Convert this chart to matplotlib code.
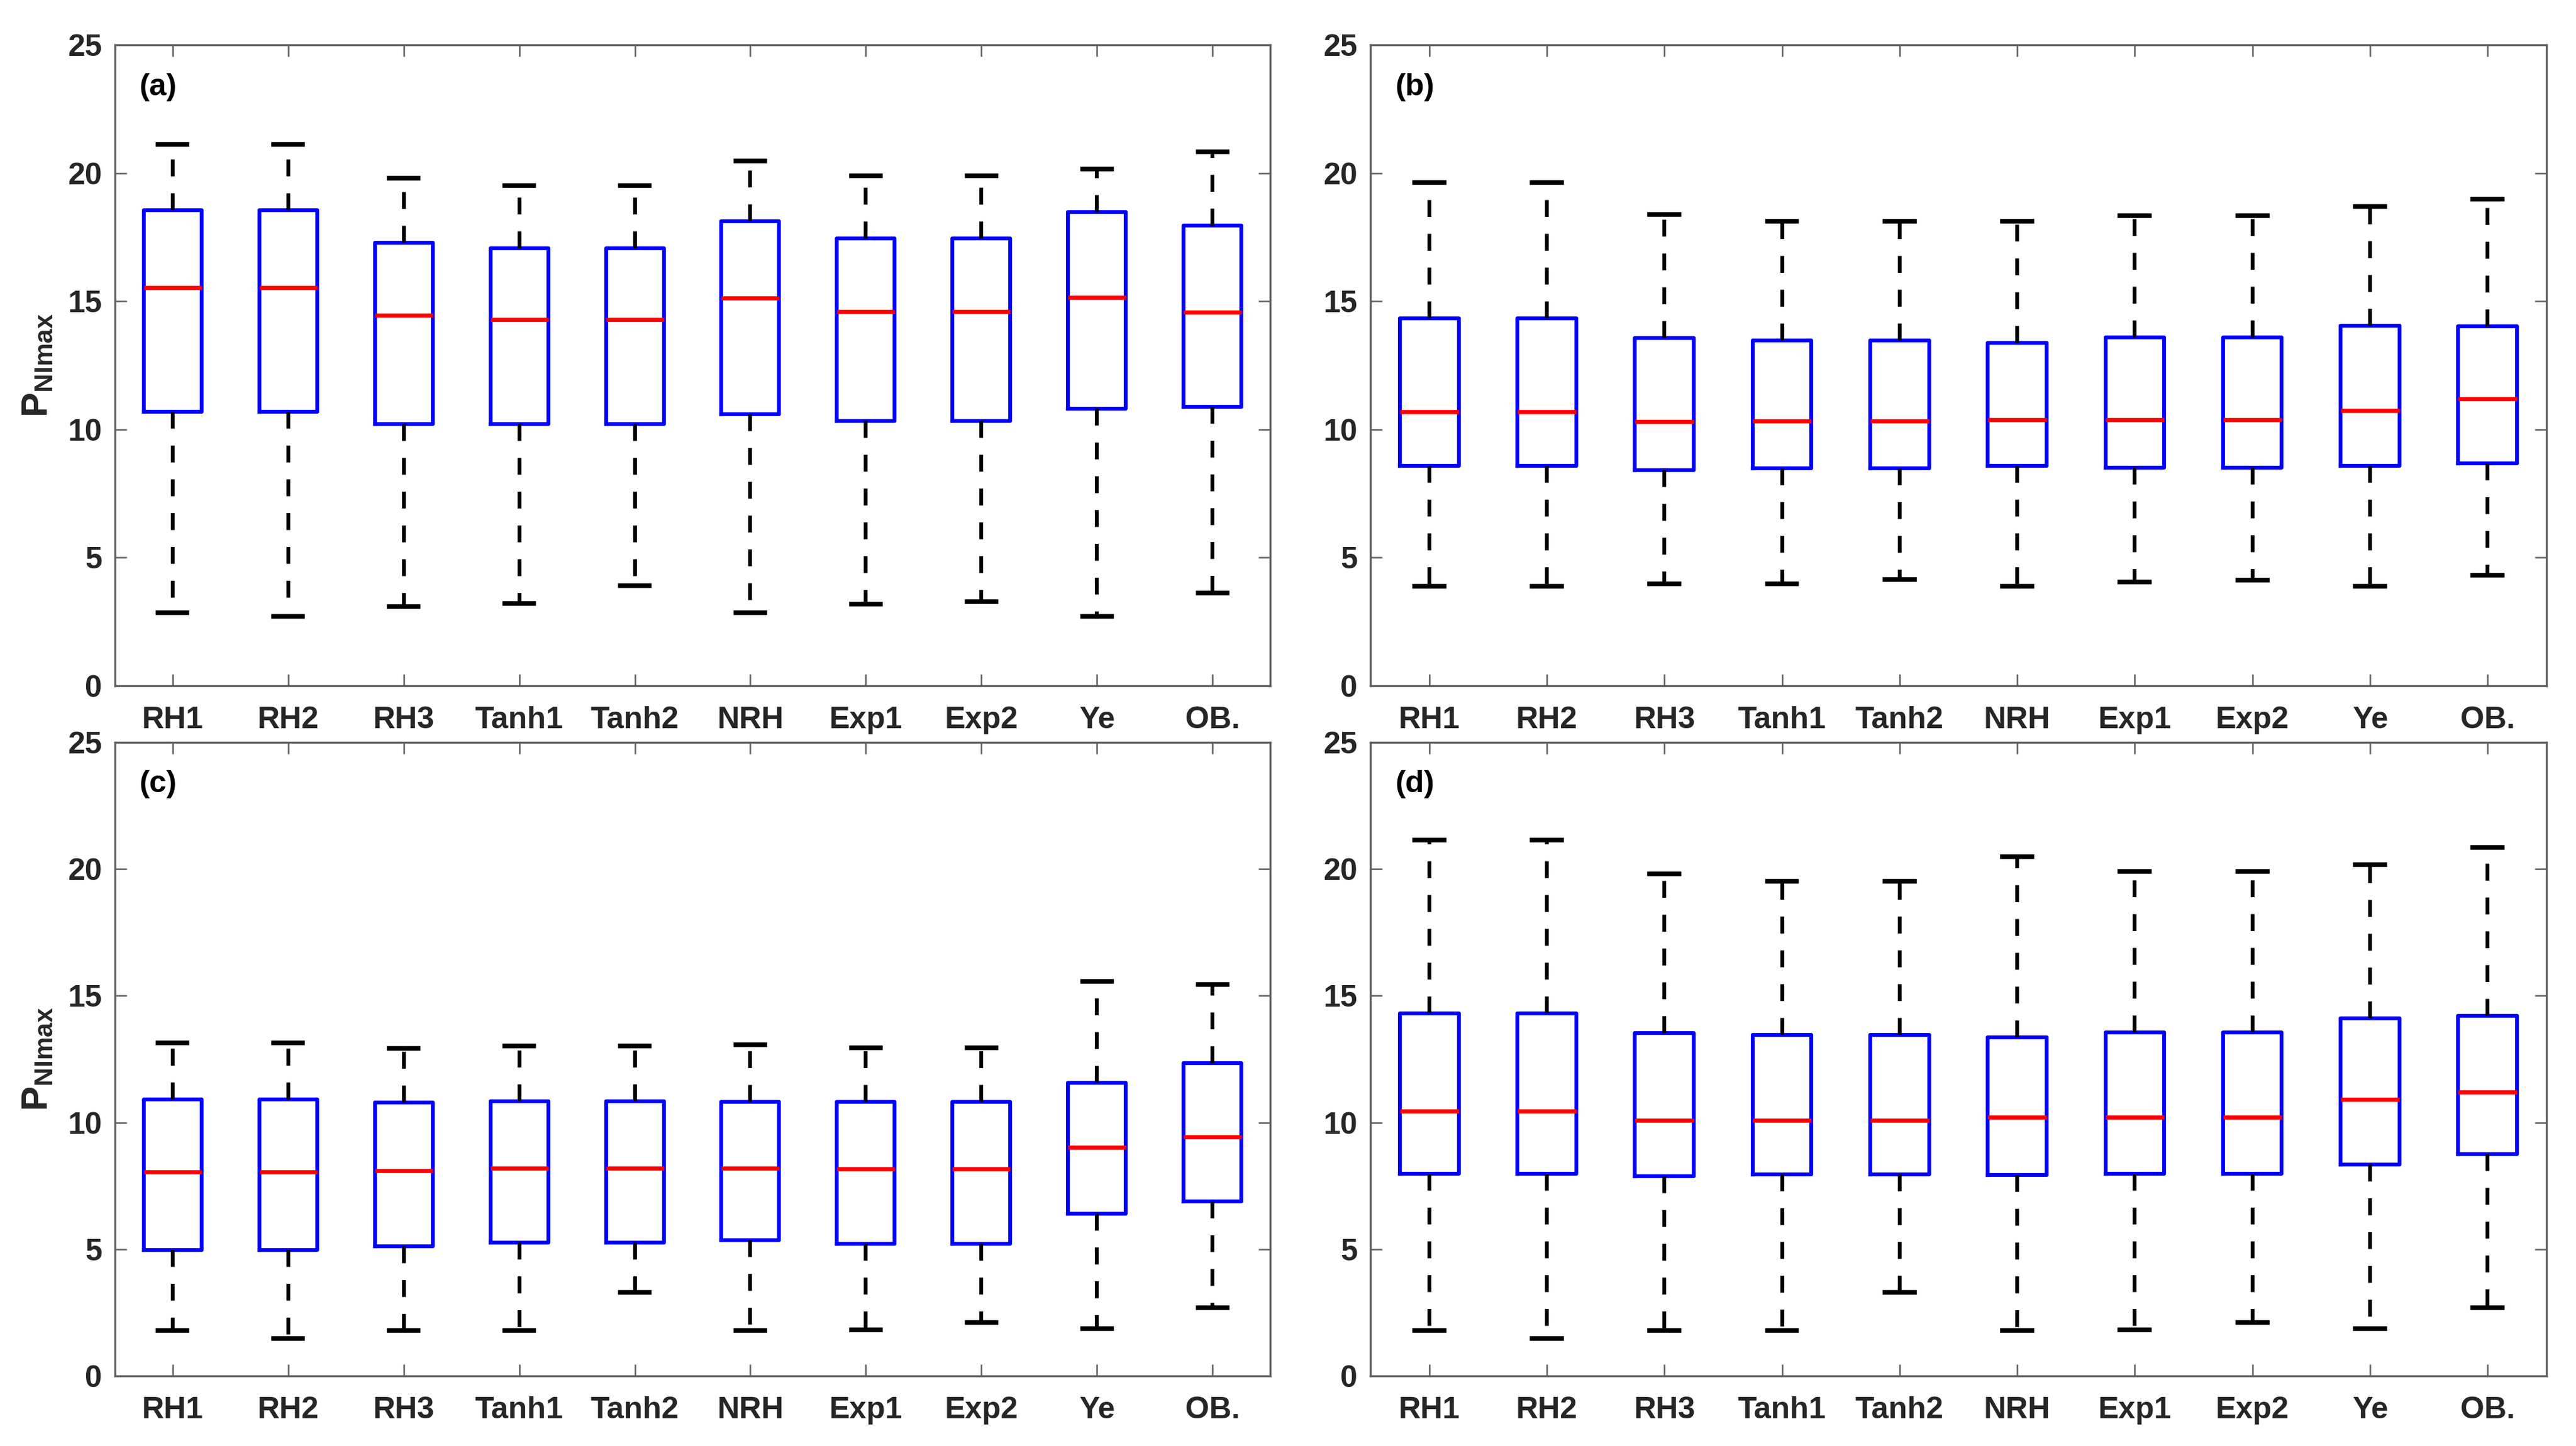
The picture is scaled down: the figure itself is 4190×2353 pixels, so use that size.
import matplotlib
matplotlib.use("Agg")
import matplotlib.pyplot as plt

plt.rcParams['font.family'] = ['Liberation Sans Narrow', 'Liberation Sans', 'DejaVu Sans']
plt.rcParams['font.weight'] = 'bold'
plt.rcParams['mathtext.fontset'] = 'custom'
plt.rcParams['mathtext.bf'] = 'Liberation Sans:bold'
plt.rcParams['mathtext.rm'] = 'Liberation Sans:bold'

# Categorías
models = ["RH1", "RH2", "RH3", "Tanh1", "Tanh2", "NRH", "Exp1", "Exp2", "Ye", "OB."]

# Panel (a)
a_low = [2.85, 2.72, 3.10, 3.21, 3.91, 2.85, 3.19, 3.28, 2.72, 3.61]
a_q1 = [10.70, 10.70, 10.21, 10.21, 10.21, 10.59, 10.32, 10.32, 10.82, 10.88]
a_med = [15.53, 15.53, 14.45, 14.29, 14.29, 15.13, 14.59, 14.59, 15.15, 14.57]
a_q3 = [18.54, 18.54, 17.28, 17.06, 17.06, 18.13, 17.44, 17.44, 18.49, 17.95]
a_high = [21.12, 21.12, 19.80, 19.50, 19.50, 20.47, 19.90, 19.90, 20.15, 20.83]

# Panel (b)
b_low = [3.88, 3.88, 3.97, 3.99, 4.15, 3.88, 4.04, 4.13, 3.88, 4.31]
b_q1 = [8.57, 8.57, 8.42, 8.48, 8.48, 8.57, 8.51, 8.51, 8.59, 8.68]
b_med = [10.70, 10.70, 10.30, 10.34, 10.34, 10.37, 10.37, 10.37, 10.75, 11.20]
b_q3 = [14.34, 14.34, 13.56, 13.47, 13.47, 13.37, 13.58, 13.58, 14.05, 14.03]
b_high = [19.64, 19.64, 18.38, 18.13, 18.13, 18.13, 18.34, 18.34, 18.70, 18.98]

# Panel (c)
c_low = [1.79, 1.48, 1.79, 1.79, 3.29, 1.79, 1.83, 2.12, 1.87, 2.69]
c_q1 = [4.97, 4.97, 5.12, 5.27, 5.27, 5.36, 5.21, 5.21, 6.40, 6.88]
c_med = [8.05, 8.05, 8.10, 8.21, 8.21, 8.21, 8.17, 8.17, 9.03, 9.44]
c_q3 = [10.92, 10.92, 10.79, 10.84, 10.84, 10.81, 10.81, 10.81, 11.58, 12.34]
c_high = [13.15, 13.15, 12.93, 13.02, 13.02, 13.06, 12.95, 12.95, 15.56, 15.45]

# Panel (d)
d_low = [1.79, 1.48, 1.79, 1.79, 3.29, 1.79, 1.83, 2.12, 1.87, 2.69]
d_q1 = [7.99, 7.99, 7.88, 7.96, 7.96, 7.94, 7.97, 7.97, 8.34, 8.76]
d_med = [10.46, 10.46, 10.08, 10.08, 10.08, 10.22, 10.20, 10.20, 10.92, 11.21]
d_q3 = [14.30, 14.30, 13.53, 13.46, 13.46, 13.37, 13.55, 13.55, 14.12, 14.21]
d_high = [21.14, 21.14, 19.81, 19.53, 19.53, 20.50, 19.90, 19.90, 20.17, 20.85]

panels = [
    ("(a)", a_low, a_q1, a_med, a_q3, a_high),
    ("(b)", b_low, b_q1, b_med, b_q3, b_high),
    ("(c)", c_low, c_q1, c_med, c_q3, c_high),
    ("(d)", d_low, d_q1, d_med, d_q3, d_high),
]

W, H = 4190, 2353
fig = plt.figure(figsize=(W / 300, H / 300), dpi=300)

# Posiciones de los ejes (fracciones de figura)
rects = [
    (0.0446, 0.5257, 0.4485, 0.4433),
    (0.5320, 0.5257, 0.4565, 0.4433),
    (0.0446, 0.0484, 0.4485, 0.4382),
    (0.5320, 0.0484, 0.4565, 0.4382),
]

spine_col = "#606060"
text_col = "#262626"

for rect, (lab, low, q1, med, q3, high) in zip(rects, panels):
    ax = fig.add_axes(rect)
    stats = []
    for i in range(len(models)):
        stats.append({"label": models[i], "whislo": low[i], "q1": q1[i], "med": med[i],
                      "q3": q3[i], "whishi": high[i], "fliers": []})
    ax.bxp(stats, positions=range(1, len(models) + 1), widths=0.5, showfliers=False,
           boxprops=dict(color="#0000ff", linewidth=1.5),
           medianprops=dict(color="#ff0000", linewidth=1.6),
           whiskerprops=dict(color="black", linewidth=1.5, linestyle=(0, (4.4, 4.4))),
           capprops=dict(color="black", linewidth=1.8),
           capwidths=0.25)
    ax.set_xlim(0.5, 10.5)
    ax.set_ylim(0, 25)
    ax.set_yticks([0, 5, 10, 15, 20, 25])
    ax.set_xticks(range(1, len(models) + 1))
    ax.set_xticklabels(models)
    for s in ax.spines.values():
        s.set_color(spine_col)
        s.set_linewidth(0.8)
    ax.tick_params(direction="in", top=True, right=True, length=4.5, width=0.6,
                   color=spine_col, labelcolor=text_col, labelsize=12)
    ax.tick_params(axis="x", pad=8)
    ax.tick_params(axis="y", pad=5)
    for t in ax.get_xticklabels() + ax.get_yticklabels():
        t.set_fontweight("bold")
    ax.text(0.021, 0.934, lab, transform=ax.transAxes, ha="left", va="center",
            fontsize=12, fontweight="bold", color="black")

# Etiquetas del eje y
for yc in [(73 + 1116) / 2, (1208 + 2239) / 2]:
    fig.text(62 / W, 1 - yc / H, r"$\mathbf{P}_{\mathbf{NImax}}$", rotation=90,
             ha="center", va="center", fontsize=14.5, color=text_col)

plt.savefig("out.png", dpi=300)
